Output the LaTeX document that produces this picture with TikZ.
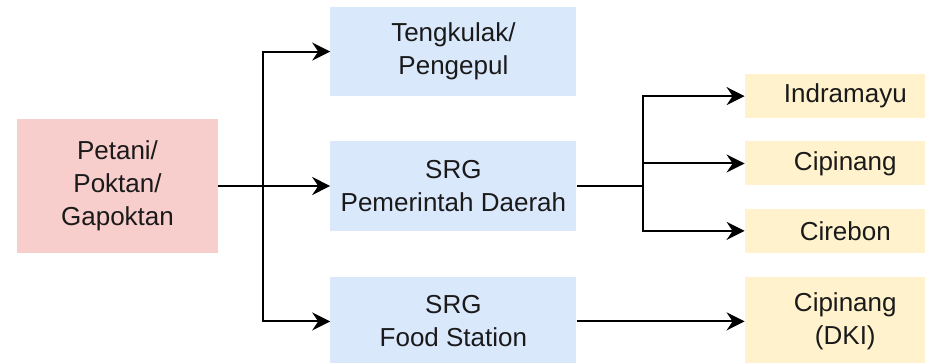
\documentclass[tikz,border=0pt]{standalone}
\usepackage{fontspec}
\setmainfont{Liberation Sans}
\usepackage{xcolor}
\usepackage{tikz}
\usetikzlibrary{positioning, arrows.meta}
\definecolor{farmer}{HTML}{F8CECC}
\definecolor{buyer}{HTML}{DAE8FC}
\definecolor{market}{HTML}{FFF2CC}
\definecolor{ink}{HTML}{1A1A1A}
\tikzset{
    base/.style={rectangle, align=center, text=ink, font=\fontsize{26}{33}\selectfont, inner sep=0pt},
    source/.style={base, fill=farmer, minimum width=201pt, minimum height=134pt},
    channel/.style={base, fill=buyer, minimum width=246pt, minimum height=89pt},
    outlet/.style={base, fill=market, minimum width=201pt, minimum height=44pt},
    arrow/.style={-{Stealth[length=18pt, width=18pt, inset=6pt]}, line width=2pt, draw=black}
}
\begin{document}
\begin{tikzpicture}[x=1pt, y=-1pt, node distance=45pt and 112pt]
\useasboundingbox (0,0) rectangle (925,363);

% Nodes
\node[source] (petani) at (117.5,186) {Petani/\\Poktan/\\Gapoktan};
\node[channel, right=112pt of petani] (pemda) {SRG\\Pemerintah Daerah};
\node[channel, above=45pt of pemda] (tengkulak) {Tengkulak/\\Pengepul};
\node[channel, below=46pt of pemda] (foodstation) {SRG\\Food Station};
\node[outlet, right=168pt of pemda.north east, anchor=north west] (cipinang) {Cipinang};
\node[outlet, above=23pt of cipinang] (indramayu) {Indramayu};
\node[outlet, below=23pt of cipinang] (cirebon) {Cirebon};
\node[outlet, minimum height=88pt, right=168pt of foodstation] (dki) {Cipinang\\(DKI)};

% Split points
\coordinate[right=45pt of petani] (leftsplit);
\coordinate[right=66pt of pemda] (rightsplit);

% Routing
\draw[arrow] (petani) -- (pemda);
\draw[arrow] (leftsplit) |- (tengkulak);
\draw[arrow] (leftsplit) |- (foodstation);
\draw[line width=2pt] (pemda) -- (rightsplit);
\draw[arrow] (rightsplit) |- (indramayu);
\draw[arrow] (rightsplit) |- (cipinang);
\draw[arrow] (rightsplit) |- (cirebon);
\draw[arrow] (foodstation) -- (dki);

\end{tikzpicture}
\end{document}
